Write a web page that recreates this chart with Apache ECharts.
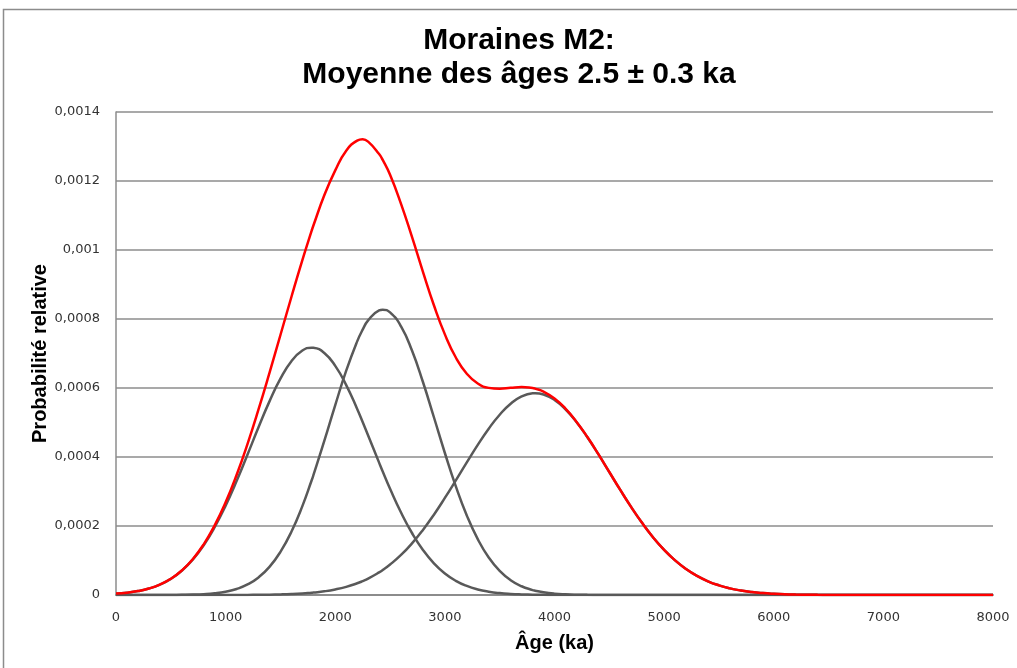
<!DOCTYPE html>
<html>
<head>
<meta charset="utf-8">
<script src="https://cdn.jsdelivr.net/npm/echarts@6/dist/echarts.min.js"></script>
<style>
  html, body { margin: 0; padding: 0; background: #fff; }
</style>
</head>
<body>
<div id="myChart" style="width:1017px;height:668px;"></div>
<script>
// ages (ka), step 100 up to 7000 (+ peak points), then 8000
var ages = [0, 100, 200, 300, 400, 500, 600, 700, 800, 900,
  1000, 1100, 1200, 1300, 1400, 1500, 1600, 1700, 1785, 1800, 1900,
  2000, 2100, 2200, 2250, 2300, 2400, 2433, 2500, 2600, 2700, 2800, 2900,
  3000, 3100, 3200, 3300, 3400, 3500, 3600, 3700, 3800, 3823, 3900,
  4000, 4100, 4200, 4300, 4400, 4500, 4600, 4700, 4800, 4900,
  5000, 5100, 5200, 5300, 5400, 5500, 5600, 5700, 5800, 5900,
  6000, 6100, 6200, 6300, 6400, 6500, 6600, 6700, 6800, 6900,
  7000, 8000];

// courbes grises (ages individuels)
var age1 = [0.0000037, 0.0000066, 0.0000113, 0.0000187, 0.0000301, 0.0000468, 0.0000704, 0.0001025, 0.0001443, 0.0001965,
  0.0002589, 0.0003301, 0.0004073, 0.0004861, 0.0005612, 0.0006269, 0.0006776, 0.0007085, 0.0007170, 0.0007167, 0.0007015,
  0.0006642, 0.0006085, 0.0005394, 0.0005015, 0.0004625, 0.0003837, 0.0003581, 0.0003080, 0.0002392, 0.0001797, 0.0001306, 0.0000918,
  0.0000625, 0.0000411, 0.0000262, 0.0000161, 0.0000096, 0.0000055, 0.0000031, 0.0000017, 0.0000009, 0.0000007, 0.0000004,
  0.0000002, 0.0000001, 0, 0, 0, 0, 0, 0, 0, 0,
  0, 0, 0, 0, 0, 0, 0, 0, 0, 0,
  0, 0, 0, 0, 0, 0, 0, 0, 0, 0,
  0, 0];
var age2 = [0, 0, 0, 0, 0.0000001, 0.0000002, 0.0000006, 0.0000012, 0.0000025, 0.0000050,
  0.0000096, 0.0000175, 0.0000305, 0.0000510, 0.0000816, 0.0001251, 0.0001834, 0.0002577, 0.0003325, 0.0003466, 0.0004464,
  0.0005505, 0.0006501, 0.0007351, 0.0007690, 0.0007959, 0.0008250, 0.0008270, 0.0008190, 0.0007785, 0.0007085, 0.0006174, 0.0005152,
  0.0004116, 0.0003149, 0.0002307, 0.0001618, 0.0001087, 0.0000699, 0.0000430, 0.0000254, 0.0000143, 0.0000125, 0.0000078,
  0.0000040, 0.0000020, 0.0000009, 0.0000004, 0.0000002, 0.0000001, 0, 0, 0, 0,
  0, 0, 0, 0, 0, 0, 0, 0, 0, 0,
  0, 0, 0, 0, 0, 0, 0, 0, 0, 0,
  0, 0];
var age3 = [0, 0, 0, 0, 0, 0, 0, 0, 0, 0.0000001,
  0.0000001, 0.0000002, 0.0000003, 0.0000006, 0.0000010, 0.0000017, 0.0000028, 0.0000045, 0.0000066, 0.0000070, 0.0000107,
  0.0000161, 0.0000236, 0.0000339, 0.0000403, 0.0000476, 0.0000655, 0.0000724, 0.0000882, 0.0001161, 0.0001496, 0.0001887, 0.0002328,
  0.0002813, 0.0003324, 0.0003845, 0.0004352, 0.0004821, 0.0005226, 0.0005544, 0.0005755, 0.0005847, 0.0005850, 0.0005813,
  0.0005655, 0.0005384, 0.0005016, 0.0004574, 0.0004082, 0.0003564, 0.0003045, 0.0002546, 0.0002084, 0.0001669,
  0.0001308, 0.0001003, 0.0000753, 0.0000553, 0.0000397, 0.0000280, 0.0000192, 0.0000130, 0.0000085, 0.0000055,
  0.0000035, 0.0000021, 0.0000013, 0.0000008, 0.0000004, 0.0000003, 0.0000001, 0.0000001, 0, 0,
  0, 0];
// somme (courbe rouge)
var somme = [0.0000040, 0.0000066, 0.0000113, 0.0000187, 0.0000302, 0.0000470, 0.0000710, 0.0001037, 0.0001468, 0.0002016,
  0.0002686, 0.0003478, 0.0004381, 0.0005377, 0.0006438, 0.0007537, 0.0008638, 0.0009707, 0.0010561, 0.0010703, 0.0011586,
  0.0012308, 0.0012880, 0.0013170, 0.0013210, 0.0013140, 0.0012780, 0.0012610, 0.0012180, 0.0011338, 0.0010378, 0.0009367, 0.0008398,
  0.0007554, 0.0006884, 0.0006414, 0.0006131, 0.0006004, 0.0005980, 0.0006005, 0.0006026, 0.0005999, 0.0005982, 0.0005895,
  0.0005697, 0.0005405, 0.0005025, 0.0004578, 0.0004084, 0.0003565, 0.0003045, 0.0002546, 0.0002084, 0.0001669,
  0.0001308, 0.0001003, 0.0000753, 0.0000553, 0.0000397, 0.0000280, 0.0000192, 0.0000130, 0.0000085, 0.0000055,
  0.0000035, 0.0000021, 0.0000013, 0.0000008, 0.0000004, 0.0000003, 0.0000001, 0.0000001, 0, 0,
  0, 0];

function pairs(arr) {
  return ages.map(function (a, i) { return [a, arr[i]]; });
}

var grey = "#595959";
var myChart = echarts.init(document.getElementById("myChart"));
myChart.setOption({
  animation: false,
  backgroundColor: "#fff",
  graphic: [{
    type: "rect",
    shape: { x: 3.5, y: 9.5, width: 1040, height: 700 },
    style: { fill: "none", stroke: "#8c8c8c", lineWidth: 1.5 },
    silent: true
  }],
  title: {
    text: "Moraines M2:\nMoyenne des âges 2.5 ± 0.3 ka",
    left: 514,
    textAlign: "center",
    top: 19,
    textStyle: {
      fontFamily: "Liberation Sans",
      fontWeight: "bold",
      fontSize: 30,
      lineHeight: 34,
      color: "#000"
    }
  },
  grid: { left: 116, right: 24, top: 112, bottom: 73 },
  xAxis: {
    type: "value",
    min: 0,
    max: 8000,
    interval: 1000,
    name: "Âge (ka)",
    nameLocation: "middle",
    nameGap: 38,
    nameTextStyle: { fontFamily: "Liberation Sans", fontWeight: "bold", fontSize: 20, color: "#000" },
    axisLine: { show: true, lineStyle: { color: "#8c8c8c", width: 2 } },
    axisTick: { show: false },
    splitLine: { show: false },
    axisLabel: {
      margin: 16,
      fontFamily: "DejaVu Sans",
      fontSize: 13,
      color: "#333",
      formatter: function (v) { return String(v); }
    }
  },
  yAxis: {
    type: "value",
    min: 0,
    max: 0.0014,
    interval: 0.0002,
    name: "Probabilité relative",
    nameLocation: "middle",
    nameGap: 66,
    nameMoveOverlap: false,
    nameTextStyle: { fontFamily: "Liberation Sans", fontWeight: "bold", fontSize: 20, color: "#000" },
    axisLine: { show: true, lineStyle: { color: "#8c8c8c", width: 1.5 } },
    axisTick: { show: false },
    splitLine: { show: true, lineStyle: { color: "#8c8c8c", width: 1.5 } },
    axisLabel: {
      margin: 16,
      fontFamily: "DejaVu Sans",
      fontSize: 13,
      color: "#333",
      formatter: function (v) { return String(+v.toFixed(4)).replace(".", ","); }
    }
  },
  series: [
    { name: "Âge 1", type: "line", data: pairs(age1), smooth: true, showSymbol: false, lineStyle: { color: grey, width: 2.5 } },
    { name: "Âge 2", type: "line", data: pairs(age2), smooth: true, showSymbol: false, lineStyle: { color: grey, width: 2.5 } },
    { name: "Âge 3", type: "line", data: pairs(age3), smooth: true, showSymbol: false, lineStyle: { color: grey, width: 2.5 } },
    { name: "Somme", type: "line", data: pairs(somme), smooth: true, showSymbol: false, lineStyle: { color: "#ff0000", width: 2.5 } }
  ]
});
</script>
</body>
</html>
